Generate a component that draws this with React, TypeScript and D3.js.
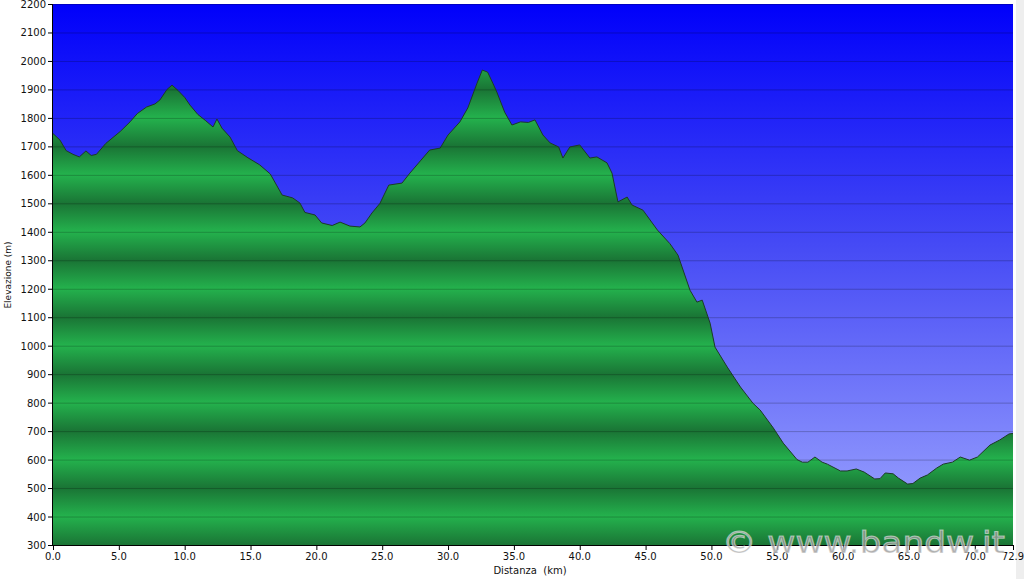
import React from "react";
import * as d3 from "d3";

// distance (km) and elevation (m)
const distanceKm = [
  0, 0.53, 1.0, 1.52, 2.0, 2.5, 2.9, 3.3, 4.0, 5.1, 5.85, 6.4, 7.1, 7.74, 8.12, 8.66, 9.04, 9.5, 10.0, 10.4,
  11.0, 11.6, 12.15, 12.45, 12.83, 13.44, 14.0, 14.8, 15.7, 16.5, 17.4, 18.2, 18.75, 19.13, 19.9, 20.4, 21.2,
  21.8, 22.55, 23.31, 23.69, 24.22, 24.83, 25.5, 26.5, 27.1, 28.6, 29.4, 30.0, 30.9, 31.5, 32.2, 32.6, 33.0,
  33.4, 33.7, 34.3, 34.85, 35.5, 36.1, 36.6, 37.2, 37.75, 38.4, 38.72, 39.25, 40.0, 40.77, 41.3, 42.07, 42.45,
  42.9, 43.6, 43.97, 44.8, 45.9, 46.85, 47.46, 48.37, 48.9, 49.3, 49.9, 50.27, 51.2, 52.2, 53.15, 53.7, 54.7,
  55.45, 56.5, 56.9, 57.33, 57.86, 58.4, 58.8, 59.8, 60.3, 61.0, 61.6, 62.4, 62.8, 63.2, 63.8, 64.2, 64.9,
  65.3, 65.85, 66.4, 67.1, 67.6, 68.3, 68.9, 69.6, 70.2, 71.15, 71.9, 72.6, 72.9,
];
const elevationM = [
  1745, 1722, 1685, 1672, 1663, 1684, 1668, 1672, 1710, 1752, 1786, 1815, 1838, 1849, 1863, 1900, 1915, 1896, 1872, 1845,
  1812, 1790, 1768, 1796, 1764, 1733, 1685, 1660, 1635, 1603, 1529, 1519, 1501, 1468, 1459, 1431, 1422,
  1434, 1420, 1417, 1431, 1466, 1500, 1564, 1571, 1606, 1687, 1694, 1740, 1786, 1835, 1922, 1968, 1961,
  1922, 1891, 1820, 1775, 1786, 1784, 1793, 1740, 1712, 1698, 1659, 1698, 1705, 1659, 1663, 1642, 1606,
  1505, 1522, 1494, 1476, 1406, 1358, 1318, 1195, 1153, 1160, 1079, 995, 925, 855, 798, 774, 711,
  658, 600, 591, 591, 609, 591, 584, 560, 560, 567, 556, 532, 533, 553, 550, 535, 514,
  516, 535, 546, 570, 584, 591, 609, 598, 609, 651, 669, 690, 692,
];

const yTicks = d3.range(300, 2201, 100);
const xTicks = [0, 5, 10, 15, 20, 25, 30, 35, 40, 45, 50, 55, 60, 65, 70, 72.9];

const W = 1024;
const H = 579;
const font = "'DejaVu Sans', Verdana, sans-serif";

export default function App() {
  const x = d3.scaleLinear().domain([0, 72.9]).range([53, 1013]);
  const y = d3.scaleLinear().domain([300, 2200]).range([545, 4]);
  const pts = distanceKm.map((d, i) => [d, elevationM[i]] as [number, number]);

  const area = d3
    .area<[number, number]>()
    .x((d) => x(d[0]))
    .y0(y(300))
    .y1((d) => y(d[1]));
  const line = d3
    .line<[number, number]>()
    .x((d) => x(d[0]))
    .y((d) => y(d[1]));

  return (
    <svg
      width={W}
      height={H}
      style={{ position: "absolute", left: 0, top: 0, background: "#fff" }}
    >
      <defs>
        <linearGradient id="sky" x1="0" y1="0" x2="0" y2="1">
          <stop offset="0" stopColor="rgb(0,0,250)" />
          <stop offset="0.45" stopColor="rgb(70,75,245)" />
          <stop offset="1" stopColor="rgb(160,168,255)" />
        </linearGradient>
        <linearGradient
          id="bands"
          gradientUnits="userSpaceOnUse"
          x1="0"
          x2="0"
          y1={y(500)}
          y2={y(300)}
          spreadMethod="repeat"
        >
          <stop offset="0" stopColor="#1a7435" />
          <stop offset="0.5" stopColor="#24b24d" />
          <stop offset="1" stopColor="#1a7435" />
        </linearGradient>
      </defs>

      <rect x={x(0)} y={y(2200)} width={x(72.9) - x(0)} height={y(300) - y(2200)} fill="url(#sky)" />
      <path d={area(pts) ?? ""} fill="url(#bands)" />

      {yTicks.map((t) => (
        <line
          key={t}
          x1={x(0)}
          x2={x(72.9)}
          y1={y(t) + 0.5}
          y2={y(t) + 0.5}
          stroke="#000"
          strokeOpacity={0.22}
        />
      ))}

      <path d={line(pts) ?? ""} fill="none" stroke="#1d3a27" strokeWidth={1} />

      <rect x={1016} y={0} width={8} height={H} fill="#eeeeee" />

      {/* axes */}
      <line x1={x(0) - 0.5} x2={x(0) - 0.5} y1={y(2200)} y2={y(300) + 1} stroke="#000" />
      <line x1={x(0)} x2={x(72.9)} y1={y(300) + 0.5} y2={y(300) + 0.5} stroke="#000" />

      {yTicks.map((t) => (
        <g key={t}>
          <line x1={x(0) - 5} x2={x(0)} y1={y(t) + 0.5} y2={y(t) + 0.5} stroke="#000" />
          <text
            x={x(0) - 7}
            y={y(t) + 4}
            textAnchor="end"
            fontFamily={font}
            fontSize={10}
            fill="#111"
          >
            {t}
          </text>
        </g>
      ))}

      {xTicks.map((t) => (
        <g key={t}>
          <line x1={x(t) + 0.5} x2={x(t) + 0.5} y1={y(300)} y2={y(300) + 5} stroke="#000" />
          <text
            x={x(t)}
            y={y(300) + 15}
            textAnchor="middle"
            fontFamily={font}
            fontSize={10}
            fill="#111"
          >
            {d3.format(".1f")(t)}
          </text>
        </g>
      ))}

      <text
        transform={`translate(11, 275) rotate(-90)`}
        textAnchor="middle"
        fontFamily={font}
        fontSize={9}
        fill="#111"
      >
        Elevazione (m)
      </text>
      <text x={530} y={574} textAnchor="middle" fontFamily={font} fontSize={10} fill="#111" xmlSpace="preserve">
        Distanza  (km)
      </text>

      <text
        x={722}
        y={553}
        fontFamily={font}
        fontSize={31}
        textLength={283}
        lengthAdjust="spacingAndGlyphs"
        fill="#999"
        fillOpacity={0.8}
        stroke="#fff"
        strokeOpacity={0.5}
        strokeWidth={1}
      >
        © www.bandw.it
      </text>
    </svg>
  );
}
